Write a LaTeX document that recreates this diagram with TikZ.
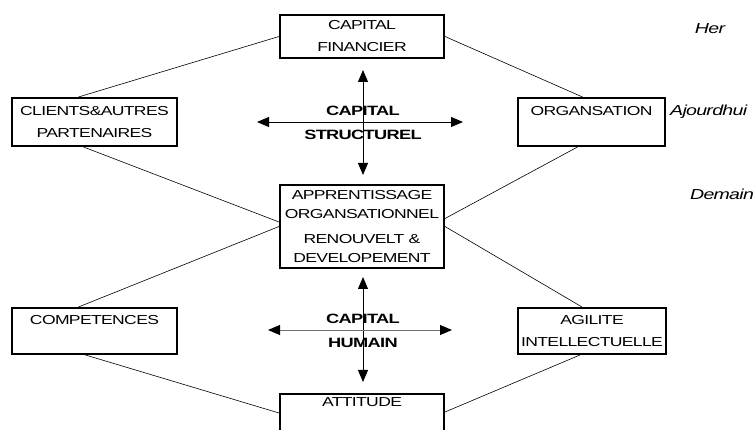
\documentclass[tikz,border=0pt]{standalone}
\usepackage{fontspec}
\setmainfont{Liberation Sans}[FakeStretch=1.35,LetterSpace=-5]
\usetikzlibrary{arrows.meta}

\tikzset{
  box/.style={draw, line width=2pt, align=center, inner sep=0pt,
    font=\fontsize{13}{22}\selectfont},
  link/.style={line width=0.6pt},
  cross/.style={{Triangle[length=12pt,width=10pt,color=black]}-{Triangle[length=12pt,width=10pt,color=black]}, line width=0.9pt},
  capital/.style={align=center, inner sep=0pt, font=\fontsize{13.5}{24}\selectfont\bfseries},
  period/.style={inner sep=0pt, font=\fontsize{14.5}{16}\selectfont\itshape}
}

\begin{document}
\begin{tikzpicture}[x=1pt,y=-1pt]
        \clip (0,0) rectangle (753,430);
        \def\wbig{164pt}
        \def\wside{165pt}
        % the boxes
        \node[box, minimum width=\wbig, minimum height=43pt] (fin) at (362,36.5) {CAPITAL\\FINANCIER};
        \node[box, minimum width=\wside, minimum height=48pt] (cli) at (94.5,122) {CLIENTS\&AUTRES\\PARTENAIRES};
        \node[box, minimum width=147pt, minimum height=48pt] (org) at (591.5,122) {ORGANSATION\\\mbox{}};
        \node[box, minimum width=\wbig, minimum height=83pt, font=\fontsize{13}{19}\selectfont] (app) at (362,226.5)
          {APPRENTISSAGE\\ORGANSATIONNEL\\[6pt]RENOUVELT \&\\DEVELOPEMENT};
        \node[box, minimum width=\wside, minimum height=46pt] (comp) at (94.5,331) {COMPETENCES\\\mbox{}};
        \node[box, minimum width=148pt, minimum height=46pt] (agi) at (592,331) {AGILITE\\INTELLECTUELLE};
        \node[box, minimum width=\wbig, anchor=north, inner ysep=4pt] (att) at (362,393) {ATTITUDE\\\mbox{}\\\mbox{}};
        % now the thin links
        \draw[link] (fin.west) -- ([xshift=-16pt]cli.north);
        \draw[link] (fin.east) -- ([xshift=-9pt]org.north);
        \draw[link] ([xshift=-11pt]cli.south) -- ([yshift=4.5pt]app.west);
        \draw[link] ([xshift=-14pt]org.south) -- ([yshift=8pt]app.east);
        \draw[link] ([xshift=-16pt]comp.north) -- (app.west);
        \draw[link] (app.east) -- ([xshift=-10pt]agi.north);
        \draw[link] ([xshift=-9pt]comp.south) -- ([yshift=-20pt]att.north west);
        \draw[link] ([xshift=-12pt]agi.south) -- ([yshift=-19pt]att.north east);
        % the two crosses
        \coordinate (sN) at (363,70);
        \coordinate (sS) at (363,175);
        \coordinate (sW) at (257,122);
        \coordinate (sE) at (463,122);
        \draw[cross] (sN) -- (sS);
        \draw[cross] (sW) -- (sE);
        \node[capital] (struct) at (363,122.5) {CAPITAL\\STRUCTUREL};
        \coordinate (hN) at (363,277);
        \coordinate (hS) at (363,382);
        \coordinate (hW) at (268,330);
        \coordinate (hE) at (452,330);
        \draw[cross] (hN) -- (hS);
        \draw[cross, draw=black!55] (hW) -- (hE);
        \node[capital] (human) at (363,330.5) {CAPITAL\\HUMAIN};
        % time labels
        \node[period] (hier) at (710,29) {Her};
        \node[period, anchor=west] (auj) at (670,112) {Ajourdhui};
        \node[period] (dem) at (722,194) {Demain};
\end{tikzpicture}
\end{document}
